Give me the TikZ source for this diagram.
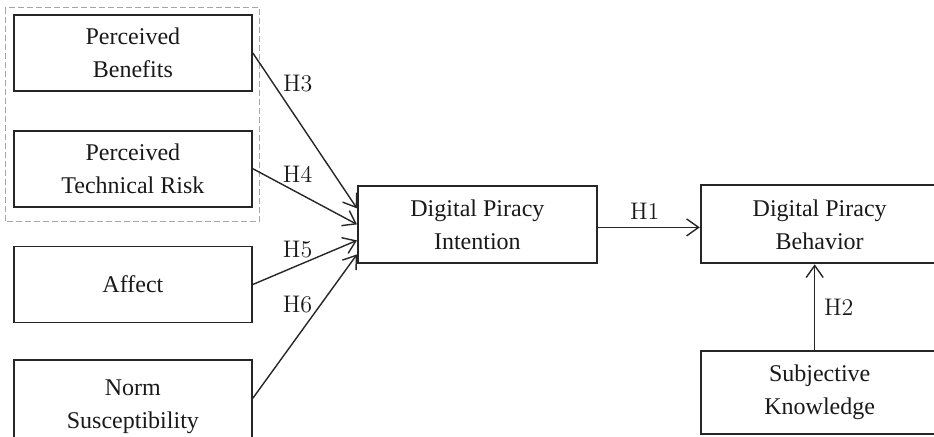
\documentclass[tikz,border=0pt]{standalone}
\usepackage{fontspec}
\newfontfamily\boxfont{Liberation Serif}
\usetikzlibrary{arrows.meta,positioning,calc}

\begin{document}
\begin{tikzpicture}[
  x=0.5pt, y=-0.5pt,
  node distance=19pt,
  box/.style={draw=black!85, line width=0.9pt, align=center, minimum width=119pt,
              minimum height=38pt, inner sep=2pt,
              font=\boxfont\fontsize{12}{16.5}\selectfont, text=black!90},
  arr/.style={-{Straight Barb[length=6pt,width=8.5pt]}, line width=0.7pt, draw=black!85},
  hlab/.style={font=\fontsize{12}{14}\selectfont, text=black!90},
  grp/.style={draw=gray!70, dash pattern=on 3pt off 1.5pt, line width=0.5pt}
]
  \useasboundingbox (0,0) rectangle (934,437);
  % Nodes
  \node[box, anchor=north west] (ben) at (13,14) {Perceived\\Benefits};
  \node[box, below=of ben]  (risk) {Perceived\\Technical Risk};
  \node[box, below=of risk] (aff)  {Affect};
  \node[box, below=18pt of aff, minimum height=46pt] (norm) {Norm\\Susceptibility};
  \node[box, anchor=north west, minimum width=119.5pt, minimum height=38.5pt] (intent) at (357,185) {Digital Piracy\\Intention};
  \node[box, right=51pt of intent, minimum height=39pt] (behav) {Digital Piracy\\Behavior};
  \node[box, below=43pt of behav, minimum height=41.5pt] (subj) {Subjective\\Knowledge};
  % Group
  \draw[grp] ($(ben.north west)+(-4pt,3pt)$) rectangle ($(risk.south east)+(3.5pt,-7pt)$);
  % Arrows
  \draw[arr] (ben.east) -- ([yshift=8pt]intent.west) node[hlab,pos=0.2,right=1pt]{H3};
  \draw[arr] (risk.east) -- ([yshift=0pt]intent.west) node[hlab,pos=0.43,above=1.5pt]{H4};
  \draw[arr] (aff.east) -- ([yshift=-8pt]intent.west) node[hlab,pos=0.43,above=0pt]{H5};
  \draw[arr] ([yshift=4pt]norm.east) -- ([yshift=-15pt]intent.west) node[hlab,pos=0.65,left=0.5pt]{H6};
  \draw[arr] ([yshift=-1.5pt]intent.east) -- ([yshift=-1.5pt]intent.east -| behav.west) node[hlab,pos=0.46,above=0.5pt]{H1};
  \draw[arr] ([xshift=-2.5pt]subj.north) -- ([xshift=-2.5pt]subj.north |- behav.south) node[hlab,midway,right=1pt]{H2};
\end{tikzpicture}
\end{document}
